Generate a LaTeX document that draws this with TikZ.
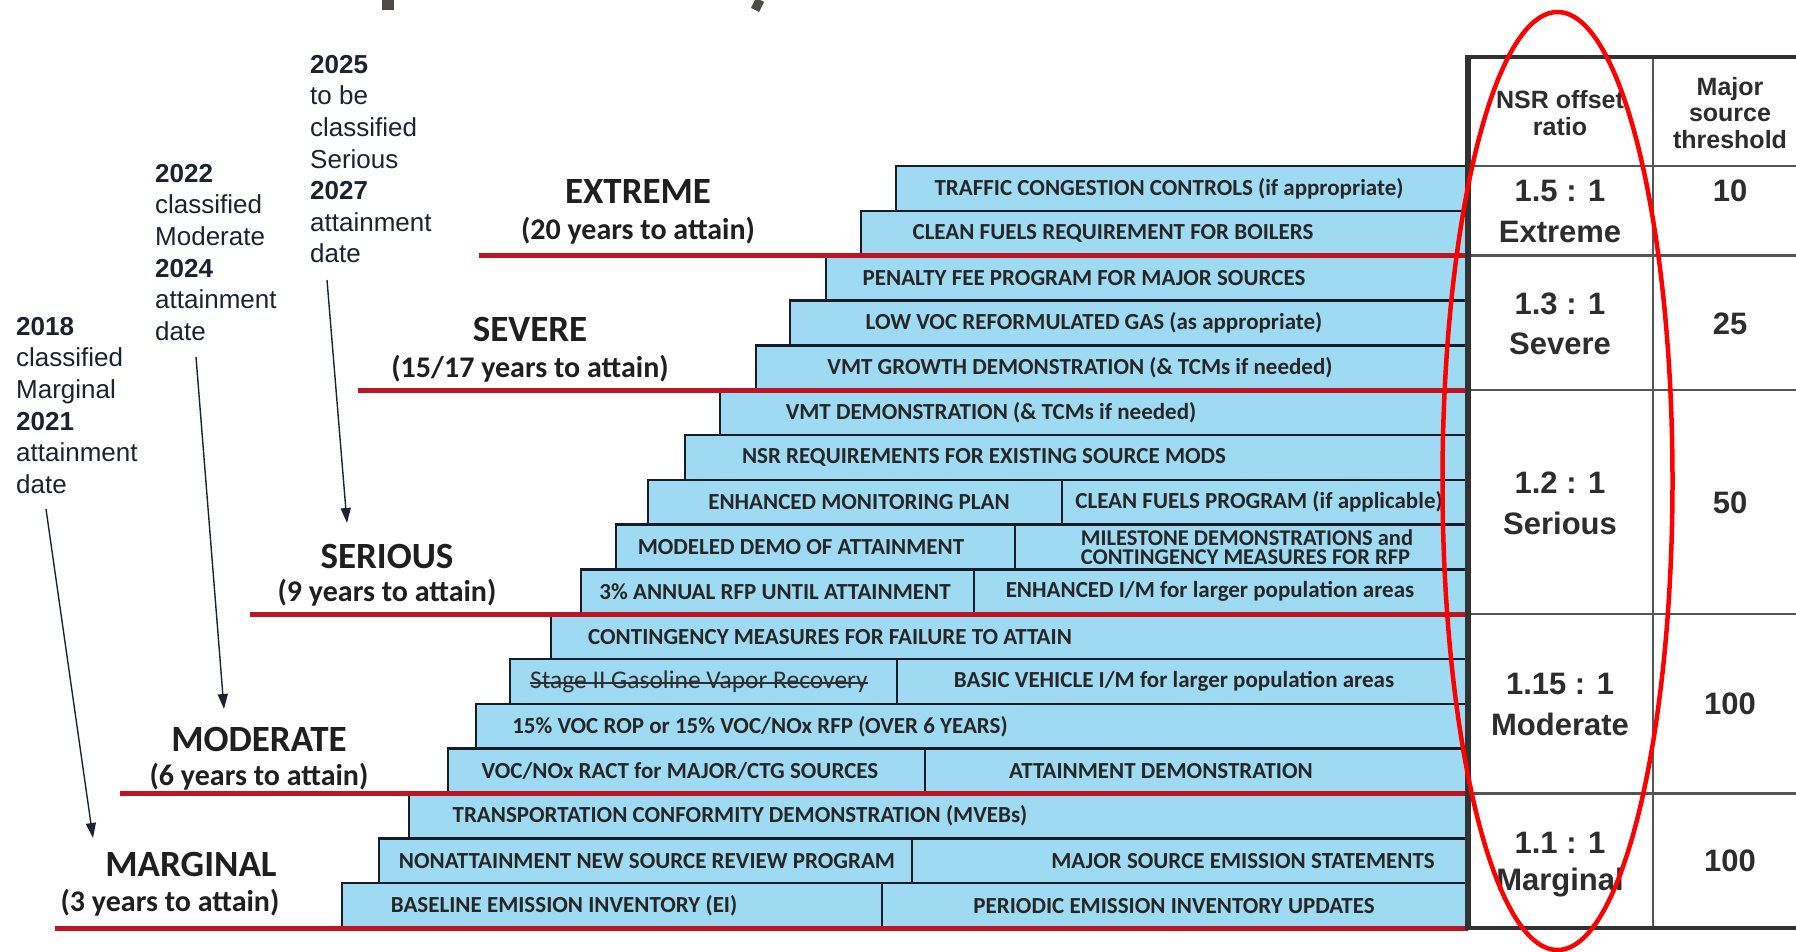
\documentclass[tikz,border=0pt]{standalone}
\usepackage{fontspec}
\setmainfont{Carlito}
\newfontfamily\boxfont{Carlito}
\newfontfamily\tabfont{Liberation Sans}
\newfontfamily\notefont{Liberation Sans}
\usetikzlibrary{arrows.meta,calc}
\definecolor{stepblue}{RGB}{158,218,242}
\definecolor{stepline}{RGB}{25,28,40}
\definecolor{redline}{RGB}{190,20,35}
\definecolor{tabline}{RGB}{85,85,85}
\definecolor{tabdark}{RGB}{50,50,50}
\definecolor{tabtext}{RGB}{45,45,45}
\definecolor{notecol}{RGB}{28,34,50}
\definecolor{ellred}{RGB}{255,0,0}
\definecolor{titlecol}{RGB}{80,75,70}
\begin{document}
\begin{tikzpicture}[x=1pt,y=-1pt,
  stepbox/.style={fill=stepblue,draw=stepline,line width=2.5pt},
  stepdiv/.style={draw=stepline,line width=2.5pt},
  steptext/.style={font=\boxfont\bfseries\fontsize{23}{25}\selectfont,text=black!85,inner sep=0pt,anchor=center},
  levelhead/.style={font=\boxfont\bfseries\fontsize{37}{40}\selectfont,text=black!88,inner sep=0pt},
  levelsub/.style={font=\boxfont\bfseries\fontsize{30}{34}\selectfont,text=black!88,inner sep=0pt},
  redrule/.style={draw=redline,line width=5pt},
  tabrule/.style={draw=tabline,line width=2.5pt},
  tabframe/.style={draw=tabdark,line width=4.5pt},
  tabhead/.style={font=\tabfont\bfseries\fontsize{25}{26.5}\selectfont,text=tabtext,align=center,inner sep=0pt},
  tabval/.style={font=\tabfont\bfseries\fontsize{31}{40}\selectfont,text=tabtext,inner sep=0pt},
  note/.style={font=\notefont\fontsize{26}{31.6}\selectfont,text=notecol,align=left,inner sep=0pt,anchor=north west},
  notearrow/.style={draw=notecol,line width=1.4pt,-{Triangle[length=15pt,width=10pt]}}
]
\useasboundingbox (0,0) rectangle (1796,952);
\fill[white] (0,0) rectangle (1796,952);

% cut-off title fragments
\fill[titlecol] (382,0) rectangle (394,10);
\draw[titlecol,line width=9pt] (760,0) -- (755,10);

% staircase boxes
\foreach \i/\l in {1/896,2/861,3/826,4/790,5/756,6/720,7/685,8/648,9/616,10/581,11/551,12/510,13/476,14/448,15/409,16/379,17/342}{
  \draw[stepbox] (\l,{166+(\i-1)*44.824}) rectangle (1468,{166+\i*44.824});
}
% dividers
\foreach \i/\d in {8/1062,9/1015,10/974,12/897,14/925,16/912,17/882}{
  \draw[stepdiv] (\d,{166+(\i-1)*44.824}) -- (\d,{166+\i*44.824});
}

% box texts
\node[steptext] (t1) at (1169,188.4) {TRAFFIC CONGESTION CONTROLS (if appropriate)};
\node[steptext] (t2) at (1113,233.2) {CLEAN FUELS REQUIREMENT FOR BOILERS};
\node[steptext] (t3) at (1084,278.1) {PENALTY FEE PROGRAM FOR MAJOR SOURCES};
\node[steptext] (t4) at (1094,322.9) {LOW VOC REFORMULATED GAS (as appropriate)};
\node[steptext] (t5) at (1080,367.7) {VMT GROWTH DEMONSTRATION (\& TCMs if needed)};
\node[steptext] (t6) at (991,412.5) {VMT DEMONSTRATION (\& TCMs if needed)};
\node[steptext] (t7) at (984,457.4) {NSR REQUIREMENTS FOR EXISTING SOURCE MODS};
\node[steptext] (t8a) at (859,502.2) {ENHANCED MONITORING PLAN};
\node[steptext] (t8b) at (1259,502.2) {CLEAN FUELS PROGRAM (if applicable)};
\node[steptext] (t9a) at (801,547) {MODELED DEMO OF ATTAINMENT};
\node[steptext,font=\boxfont\bfseries\fontsize{22.5}{19.5}\selectfont,align=left] (t9b) at (1247,547) {MILESTONE DEMONSTRATIONS and\\CONTINGENCY MEASURES FOR RFP};
\node[steptext] (t10a) at (775,591.8) {3\% ANNUAL RFP UNTIL ATTAINMENT};
\node[steptext] (t10b) at (1210,591.8) {ENHANCED I/M for larger population areas};
\node[steptext] (t11) at (830,636.7) {CONTINGENCY MEASURES FOR FAILURE TO ATTAIN};
\node[steptext,font=\boxfont\fontsize{25.5}{27}\selectfont,text=black!82] (t12a) at (699,681.5) {Stage II Gasoline Vapor Recovery};
\draw[black!82,line width=1.8pt] ([yshift=5.5pt]t12a.base west) -- ([yshift=5.5pt]t12a.base east);
\node[steptext] (t12b) at (1174,681.5) {BASIC VEHICLE I/M for larger population areas};
\node[steptext] (t13) at (760,726.3) {15\% VOC ROP or 15\% VOC/NOx RFP (OVER 6 YEARS)};
\node[steptext] (t14a) at (680,771.1) {VOC/NOx RACT for MAJOR/CTG SOURCES};
\node[steptext] (t14b) at (1161,771.1) {ATTAINMENT DEMONSTRATION};
\node[steptext] (t15) at (740,816) {TRANSPORTATION CONFORMITY DEMONSTRATION (MVEBs)};
\node[steptext] (t16a) at (647,860.8) {NONATTAINMENT NEW SOURCE REVIEW PROGRAM};
\node[steptext] (t16b) at (1243,860.8) {MAJOR SOURCE EMISSION STATEMENTS};
\node[steptext] (t17a) at (564,905.6) {BASELINE EMISSION INVENTORY (EI)};
\node[steptext] (t17b) at (1174,905.6) {PERIODIC EMISSION INVENTORY UPDATES};

% red level rules
\draw[redrule] (479,255.6) -- (1468,255.6);
\draw[redrule] (358,390.1) -- (1468,390.1);
\draw[redrule] (250,614.2) -- (1468,614.2);
\draw[redrule] (120,793.5) -- (1468,793.5);
\draw[redrule] (55,928) -- (1468,928);

% level labels
\node[levelhead] (hExt) at (638,192) {EXTREME};
\node[levelsub] (sExt) at (638,231) {(20 years to attain)};
\node[levelhead] (hSev) at (530,329) {SEVERE};
\node[levelsub] (sSev) at (530,369) {(15/17 years to attain)};
\node[levelhead] (hSer) at (387,556) {SERIOUS};
\node[levelsub] (sSer) at (387,593) {(9 years to attain)};
\node[levelhead] (hMod) at (259,739) {MODERATE};
\node[levelsub] (sMod) at (259,777) {(6 years to attain)};
\node[levelhead] (hMar) at (191,864) {MARGINAL};
\node[levelsub] (sMar) at (170,903) {(3 years to attain)};

% table
\foreach \y in {166,255.6,390.1,614.2,793.5}{
  \draw[tabrule] (1468,\y) -- (1796,\y);
}
\draw[tabrule] (1653,57) -- (1653,928);
\draw[tabframe] (1466,57) -- (1796,57);
\draw[tabframe] (1466,928) -- (1796,928);
\draw[tabframe,line width=5.5pt] (1468,55) -- (1468,930);

\node[tabhead] (hNSR) at (1560,113) {NSR offset\\ratio};
\node[tabhead] (hMaj) at (1730,113) {Major\\source\\threshold};
\node[tabval] (r1) at (1560,191) {1.5 : 1};
\node[tabval] (c1) at (1560,232) {Extreme};
\node[tabval] (m1) at (1730,191) {10};
\node[tabval] (r2) at (1560,304) {1.3 : 1};
\node[tabval] (c2) at (1560,344) {Severe};
\node[tabval] (m2) at (1730,324) {25};
\node[tabval] (r3) at (1560,483) {1.2 : 1};
\node[tabval] (c3) at (1560,523) {Serious};
\node[tabval] (m3) at (1730,503) {50};
\node[tabval] (r4) at (1560,684) {1.15 : 1};
\node[tabval] (c4) at (1560,724) {Moderate};
\node[tabval] (m4) at (1730,704) {100};
\node[tabval] (r5) at (1560,843) {1.1 : 1};
\node[tabval] (c5) at (1560,883) {Marginal};
\node[tabval] (m5) at (1730,861) {100};

% red ellipse highlight
\draw[ellred,line width=4.5pt] (1557.5,481) ellipse [x radius=115, y radius=469];

% annotations
\node[note] (nA) at (16,317) {\textbf{2018}\\classified\\Marginal\\\textbf{2021}\\attainment\\date};
\node[note] (nB) at (155,164) {\textbf{2022}\\classified\\Moderate\\\textbf{2024}\\attainment\\date};
\node[note] (nC) at (310,55) {\textbf{2025}\\to be\\classified\\Serious\\\textbf{2027}\\attainment\\date};
\coordinate (aA1) at (46,509);
\coordinate (aA2) at (93,838);
\coordinate (aB1) at (196,357);
\coordinate (aB2) at (224,709);
\coordinate (aC1) at (327,280);
\coordinate (aC2) at (347,523);
\draw[notearrow] (aA1) -- (aA2);
\draw[notearrow] (aB1) -- (aB2);
\draw[notearrow] (aC1) -- (aC2);
\end{tikzpicture}
\end{document}
